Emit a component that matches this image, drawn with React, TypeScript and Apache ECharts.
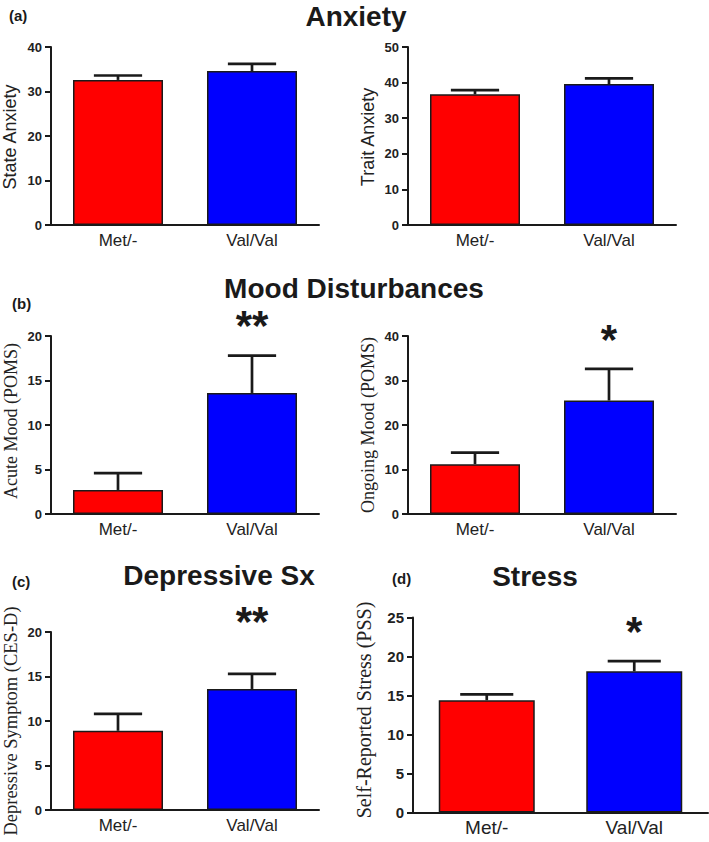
import React, { useEffect, useRef } from "react";
import * as echarts from "echarts";

// ---- Data ----
const categories = ["Met/-", "Val/Val"];

const stateAnxiety = [32.6, 34.6];
const stateAnxietyErr = [1.0, 1.6];
const traitAnxiety = [36.7, 39.6];
const traitAnxietyErr = [1.2, 1.6];
const acuteMood = [2.7, 13.6];
const acuteMoodErr = [1.9, 4.2];
const ongoingMood = [11.2, 25.5];
const ongoingMoodErr = [2.6, 7.1];
const depressive = [8.9, 13.6];
const depressiveErr = [1.9, 1.7];
const stress = [14.4, 18.1];
const stressErr = [0.75, 1.3];

// significance marks and the value level they sit at
const acuteSig = ["", "**"];
const acuteSigY = [0, 21.5];
const ongoingSig = ["", "*"];
const ongoingSigY = [0, 40.0];
const depressiveSig = ["", "**"];
const depressiveSigY = [0, 21.5];
const stressSig = ["", "*"];
const stressSigY = [0, 23.6];

const yMax = [40, 50, 20, 40, 20, 25];
const yInterval = [10, 10, 5, 10, 5, 5];

const barColors = ["#ff0000", "#0000ff"];
const SANS = "'Liberation Sans', Arial, sans-serif";
const SERIF = "'Liberation Serif', 'Times New Roman', serif";
const INK = "#1a1a1a";

type Panel = {
  values: number[];
  errors: number[];
  sig?: string[];
  sigY?: number[];
  yName: string;
  serif: boolean;
  grid: { left: number; top: number; width: number; height: number };
  barWidth: number;
  nameX: number;
  nameY: number;
  nameSize: number;
  tickSize: number;
  catSize: number;
  catMargin: number;
};

const panels: Panel[] = [
  { values: stateAnxiety, errors: stateAnxietyErr, yName: "State Anxiety", serif: false,
    grid: { left: 51, top: 47, width: 268, height: 178 }, barWidth: 90, nameX: 10, nameY: 137, nameSize: 18, tickSize: 13, catSize: 17, catMargin: 7 },
  { values: traitAnxiety, errors: traitAnxietyErr, yName: "Trait Anxiety", serif: false,
    grid: { left: 408, top: 47, width: 268, height: 178 }, barWidth: 90, nameX: 368, nameY: 137, nameSize: 18, tickSize: 13, catSize: 17, catMargin: 7 },
  { values: acuteMood, errors: acuteMoodErr, sig: acuteSig, sigY: acuteSigY, yName: "Acute Mood (POMS)", serif: true,
    grid: { left: 51, top: 336, width: 268, height: 178 }, barWidth: 90, nameX: 11, nameY: 421, nameSize: 18, tickSize: 13, catSize: 17, catMargin: 7 },
  { values: ongoingMood, errors: ongoingMoodErr, sig: ongoingSig, sigY: ongoingSigY, yName: "Ongoing Mood (POMS)", serif: true,
    grid: { left: 408, top: 336, width: 268, height: 178 }, barWidth: 90, nameX: 368, nameY: 425, nameSize: 18, tickSize: 13, catSize: 17, catMargin: 7 },
  { values: depressive, errors: depressiveErr, sig: depressiveSig, sigY: depressiveSigY, yName: "Depressive Symptom (CES-D)", serif: true,
    grid: { left: 51, top: 632, width: 268, height: 178 }, barWidth: 90, nameX: 11, nameY: 721, nameSize: 18.5, tickSize: 13, catSize: 17, catMargin: 7 },
  { values: stress, errors: stressErr, sig: stressSig, sigY: stressSigY, yName: "Self-Reported Stress (PSS)", serif: true,
    grid: { left: 413, top: 617.5, width: 295, height: 195 }, barWidth: 96, nameX: 364, nameY: 710, nameSize: 20, tickSize: 15, catSize: 19, catMargin: 5 },
];

const headings = [
  { text: "Anxiety", x: 356, y: 16 },
  { text: "Mood Disturbances", x: 354, y: 288 },
  { text: "Depressive Sx", x: 219, y: 575 },
  { text: "Stress", x: 535, y: 576 },
];
const panelTags = [
  { text: "(a)", x: 9, y: 15 },
  { text: "(b)", x: 12, y: 303 },
  { text: "(c)", x: 12, y: 581 },
  { text: "(d)", x: 392, y: 578 },
];

function buildOption() {
  const grid: any[] = [];
  const xAxis: any[] = [];
  const yAxis: any[] = [];
  const series: any[] = [];
  const graphic: any[] = [];

  panels.forEach((p, i) => {
    grid.push({ ...p.grid, containLabel: false });
    xAxis.push({
      type: "category",
      gridIndex: i,
      data: categories,
      axisTick: { show: false },
      axisLine: { lineStyle: { color: INK, width: 2 } },
      axisLabel: { color: "#222", fontFamily: SANS, fontSize: p.catSize, margin: p.catMargin },
    });
    yAxis.push({
      type: "value",
      gridIndex: i,
      min: 0,
      max: yMax[i],
      interval: yInterval[i],
      splitLine: { show: false },
      axisLine: { show: true, lineStyle: { color: INK, width: 2 } },
      axisTick: { show: true, length: 6, lineStyle: { color: INK, width: 2 } },
      axisLabel: { color: "#222", fontFamily: SANS, fontSize: p.tickSize, fontWeight: "bold", margin: 9 },
    });
    series.push({
      type: "bar",
      xAxisIndex: i,
      yAxisIndex: i,
      barWidth: p.barWidth,
      data: p.values.map((v, k) => ({
        value: v,
        itemStyle: { color: barColors[k], borderColor: INK, borderWidth: 1.5 },
      })),
    });
    series.push({
      type: "custom",
      xAxisIndex: i,
      yAxisIndex: i,
      data: p.values.map((v, k) => [k, v, p.errors[k]]),
      encode: { x: 0, y: 1 },
      z: 3,
      renderItem: (params: any, api: any) => {
        const idx = api.value(0);
        const v = api.value(1);
        const e = api.value(2);
        const base = api.coord([idx, v]);
        const top = api.coord([idx, v + e]);
        const band = api.size([1, 0])[0];
        const half = band * 0.18;
        const style = { stroke: INK, lineWidth: 2.7 };
        return {
          type: "group",
          children: [
            { type: "line", shape: { x1: base[0], y1: base[1], x2: top[0], y2: top[1] }, style },
            { type: "line", shape: { x1: top[0] - half, y1: top[1], x2: top[0] + half, y2: top[1] }, style },
          ],
        };
      },
    });
    if (p.sig && p.sigY) {
      series.push({
        type: "scatter",
        xAxisIndex: i,
        yAxisIndex: i,
        clip: false,
        symbolSize: 1,
        itemStyle: { color: "transparent", opacity: 1 },
        data: p.sig
          .map((s, k) => ({ name: s, value: [k, p.sigY![k]] }))
          .filter((d) => d.name !== ""),
        label: {
          show: true,
          position: "inside",
          formatter: (d: any) => d.name,
          color: INK,
          opacity: 1,
          fontFamily: SANS,
          fontWeight: "bold",
          fontSize: 42,
          offset: [0, 3],
        },
        z: 4,
      });
    }
    graphic.push({
      type: "text",
      x: p.nameX,
      y: p.nameY,
      rotation: Math.PI / 2,
      style: {
        text: p.yName,
        fill: "#222",
        font: `${p.nameSize}px ${p.serif ? SERIF : SANS}`,
        textAlign: "center",
        textVerticalAlign: "middle",
      },
    });
  });

  headings.forEach((h) => {
    graphic.push({
      type: "text",
      x: h.x,
      y: h.y,
      style: {
        text: h.text,
        fill: INK,
        font: `bold 28px ${SANS}`,
        textAlign: "center",
        textVerticalAlign: "middle",
      },
    });
  });
  panelTags.forEach((t) => {
    graphic.push({
      type: "text",
      x: t.x,
      y: t.y,
      style: {
        text: t.text,
        fill: INK,
        font: `bold 15px ${SANS}`,
        textAlign: "left",
        textVerticalAlign: "middle",
      },
    });
  });

  return {
    animation: false,
    backgroundColor: "#ffffff",
    grid,
    xAxis,
    yAxis,
    series,
    graphic,
  };
}

export default function App() {
  const ref = useRef<HTMLDivElement>(null);
  useEffect(() => {
    if (!ref.current) return;
    const chart = echarts.init(ref.current, undefined, { renderer: "svg" });
    chart.setOption(buildOption() as any);
    return () => chart.dispose();
  }, []);
  return (
    <div
      ref={ref}
      style={{ position: "absolute", left: 0, top: 0, width: 709, height: 842 }}
    />
  );
}
